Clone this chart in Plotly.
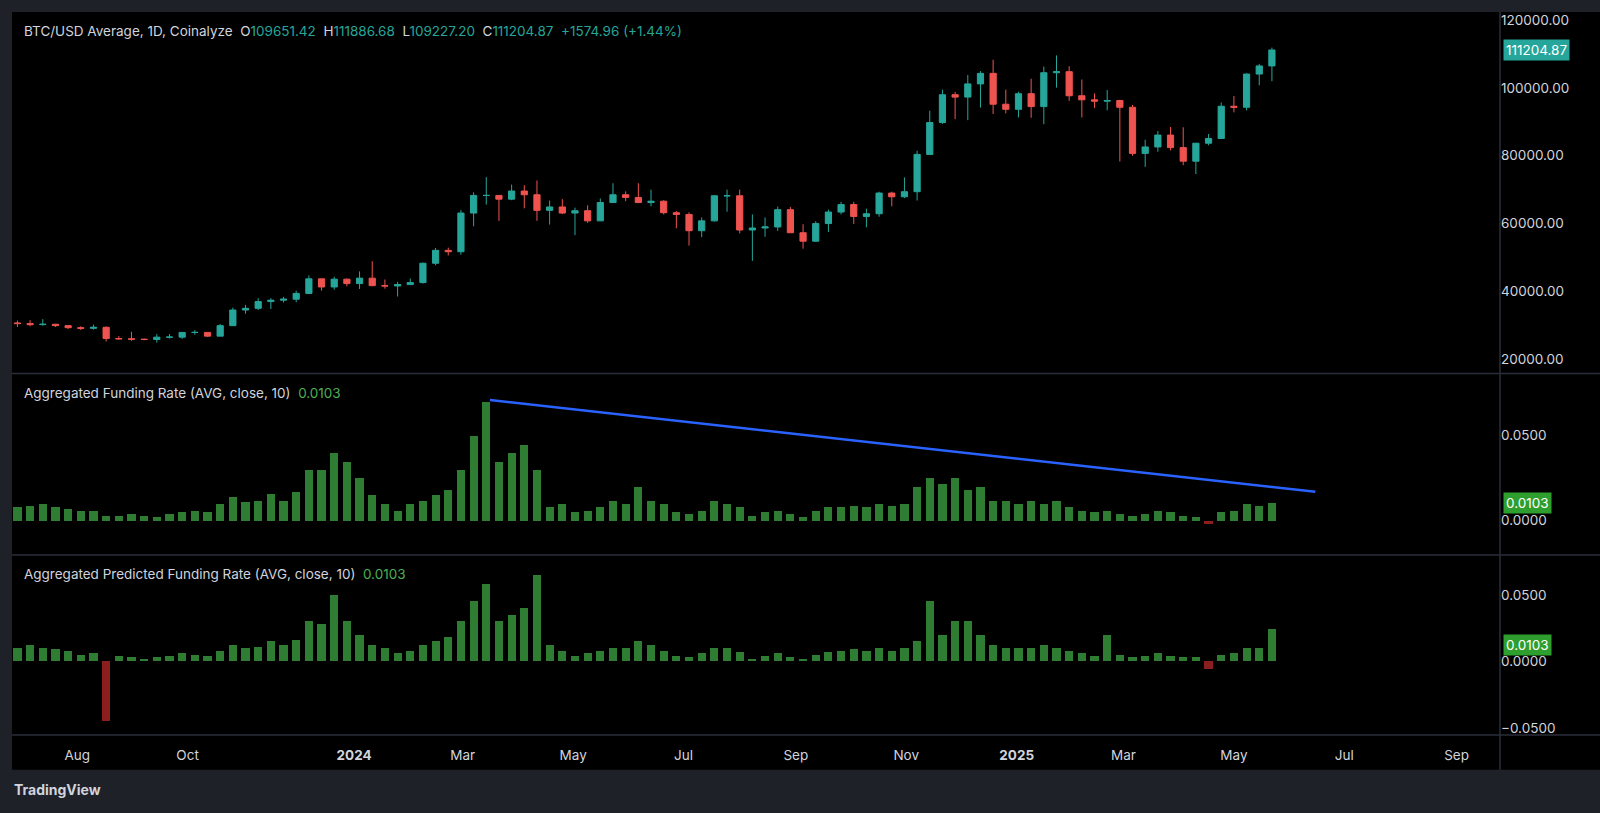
import pandas as pd
import plotly.graph_objects as go
from plotly.subplots import make_subplots

start_week = "2023-06-26"
first_open = 30700
closes = [30500,30200,30300,29900,29300,29100,29400,26100,26000,25900,
          25800,26500,26500,27900,27900,26800,29900,34500,35000,37000,
          37400,37700,39400,43700,41300,43600,42300,
          43900,41700,41600,42000,42600,48300,52100,51700,63100,
          68300,68300,67200,69600,68500,63900,64900,63100,63800,
          60800,66200,68500,67700,66200,66600,63200,62700,
          57900,60800,68200,68200,58100,58700,59000,64100,57300,
          54800,60000,63400,65600,62100,62900,69000,67900,69400,
          80400,89800,98000,97300,101200,104300,95200,93700,98300,
          94500,104500,104800,97700,96500,96100,96300,94300,
          80700,82600,86100,82400,78400,83700,85100,94600,94300,
          104100,106500,111200]
highs = [31400,31500,31800,30400,30000,29700,30200,29700,26800,28100,
         26100,27400,27400,28000,28600,28000,30400,35200,36000,38000,
         38000,38400,40200,44700,43500,44300,43800,
         45900,48900,43500,42800,43800,48500,52800,52900,64000,
         69200,73700,68200,71500,71300,72700,66800,67200,64700,
         65400,67400,71900,69500,71900,70000,66900,63700,
         63300,61800,68400,70000,70000,62700,61800,65000,64900,
         59800,60700,64100,66400,66400,64400,69400,69400,73600,
         81500,93300,99500,98800,103800,105000,108300,99500,98900,
         102700,106300,109600,106400,102500,98400,99400,96500,
         95000,84700,87300,88500,88400,83800,86400,95700,97600,
         104300,107100,111900]
lows = [29500,29700,29900,29500,28900,28600,28700,25200,25800,25400,
        25600,24900,26100,26000,27200,26600,26800,29800,33400,34500,
        34800,36700,36800,39300,40200,40500,41500,
        40700,41500,40800,38500,41900,42300,47700,50600,50800,
        59200,65600,60800,66900,64500,60800,59700,62800,56600,
        60200,60800,66600,66600,66100,65100,62700,58600,
        53500,56000,60600,63500,57100,49000,56100,57800,57200,
        52600,54600,57500,62700,59900,58900,62000,65100,67500,
        66800,80200,89400,90800,90500,94200,92300,92500,91300,
        91200,89300,100100,96200,91300,94100,93400,78300,
        80000,76700,81200,81600,77200,74600,83100,85100,92800,
        93400,100800,102000]
funding = [0.008,0.009,0.010,0.008,0.007,0.006,0.006,0.003,0.003,0.004,
           0.003,0.002,0.004,0.005,0.006,0.005,0.010,0.014,0.011,0.012,
           0.016,0.012,0.017,0.030,0.030,0.040,0.035,
           0.025,0.015,0.010,0.006,0.010,0.012,0.015,0.018,0.030,
           0.050,0.070,0.035,0.040,0.045,0.030,0.008,0.010,0.005,
           0.006,0.008,0.012,0.010,0.020,0.012,0.010,0.005,
           0.004,0.006,0.012,0.010,0.008,0.003,0.005,0.006,0.004,
           0.002,0.006,0.008,0.008,0.009,0.008,0.010,0.009,0.010,
           0.020,0.025,0.022,0.025,0.018,0.020,0.012,0.012,0.010,
           0.012,0.010,0.012,0.008,0.006,0.005,0.006,0.004,
           0.003,0.004,0.006,0.005,0.003,0.002,-0.002,0.005,0.006,
           0.010,0.009,0.0103]
predicted = [0.010,0.012,0.010,0.009,0.008,0.005,0.006,-0.045,0.004,0.003,
             0.002,0.003,0.004,0.006,0.005,0.004,0.008,0.012,0.010,0.011,
             0.015,0.012,0.016,0.030,0.028,0.050,0.030,
             0.020,0.012,0.010,0.006,0.008,0.012,0.015,0.018,0.030,
             0.045,0.058,0.030,0.035,0.040,0.065,0.012,0.008,0.004,
             0.006,0.008,0.010,0.010,0.015,0.012,0.008,0.004,
             0.003,0.006,0.010,0.010,0.007,0.002,0.004,0.006,0.003,
             0.002,0.005,0.007,0.008,0.009,0.008,0.010,0.008,0.010,
             0.015,0.045,0.020,0.030,0.030,0.020,0.012,0.010,0.010,
             0.010,0.012,0.010,0.008,0.006,0.004,0.020,0.005,
             0.003,0.004,0.006,0.004,0.003,0.003,-0.006,0.005,0.006,
             0.010,0.010,0.024]
trend_x = ["2024-03-16", "2025-06-15"]
trend_y = [0.0711, 0.0169]
last_price = "111204.87"
last_rate = "0.0103"

n = min(len(closes), len(highs), len(lows), len(funding), len(predicted))
dates = pd.date_range(start_week, periods=n, freq="7D") + pd.Timedelta(days=3)
opens = [first_open] + closes[:n-1]
closes, funding, predicted = closes[:n], funding[:n], predicted[:n]
highs = [max(h, o, c) for h, o, c in zip(highs[:n], opens, closes)]
lows = [min(l, o, c) for l, o, c in zip(lows[:n], opens, closes)]

UP, DN = "#26a69a", "#ef5350"
GREEN, RED = "#2e7d32", "#8b1e1e"
TXT = "#d1d4dc"
FONT = "Inter"

fig = make_subplots(rows=3, cols=1, shared_xaxes=True, vertical_spacing=0.003,
                    row_heights=[0.5, 0.25, 0.25])
fig.add_trace(go.Candlestick(x=dates, open=opens, high=highs, low=lows, close=closes,
                             increasing=dict(line=dict(color=UP, width=1), fillcolor=UP),
                             decreasing=dict(line=dict(color=DN, width=1), fillcolor=DN),
                             whiskerwidth=0, showlegend=False), row=1, col=1)
fig.add_trace(go.Bar(x=dates, y=funding, marker_color=[GREEN if v >= 0 else RED for v in funding],
                     marker_line_width=0, width=4.5*86400000, showlegend=False), row=2, col=1)
fig.add_trace(go.Scatter(x=trend_x, y=trend_y, mode="lines", line=dict(color="#2962ff", width=2.5),
                         showlegend=False), row=2, col=1)
fig.add_trace(go.Bar(x=dates, y=predicted, marker_color=[GREEN if v >= 0 else RED for v in predicted],
                     marker_line_width=0, width=4.5*86400000, showlegend=False), row=3, col=1)

tickvals = ["2023-08-01","2023-10-01","2024-01-01","2024-03-01","2024-05-01","2024-07-01",
            "2024-09-01","2024-11-01","2025-01-01","2025-03-01","2025-05-01","2025-07-01","2025-09-01"]
ticktext = ["Aug","Oct","<b>2024</b>","Mar","May","Jul","Sep","Nov","<b>2025</b>","Mar","May","Jul","Sep"]

fig.update_xaxes(range=["2023-06-26", "2025-09-25"], showgrid=False, zeroline=False,
                 rangeslider_visible=False, showline=False)
fig.update_xaxes(tickvals=tickvals, ticktext=ticktext, tickfont=dict(color=TXT, size=13.5),
                 ticks="", ticklabelstandoff=10, row=3, col=1)
fig.update_yaxes(side="right", showgrid=False, zeroline=False, ticks="",
                 tickfont=dict(color=TXT, size=13.5), showline=False)
fig.update_yaxes(range=[16100, 122400], tickvals=[20000,40000,60000,80000,100000,120000],
                 ticktext=["20000.00","40000.00","60000.00","80000.00","100000.00","120000.00"], row=1, col=1)
fig.update_yaxes(range=[-0.0199, 0.0861], tickvals=[0, 0.05], ticktext=["0.0000","0.0500"], row=2, col=1)
fig.update_yaxes(range=[-0.0554, 0.0792], tickvals=[-0.05, 0, 0.05],
                 ticktext=["\u22120.0500","0.0000","0.0500"], row=3, col=1)

fig.update_layout(width=1600, height=813, paper_bgcolor="#1e2128", plot_bgcolor="#000000",
                  margin=dict(l=12, r=100, t=12, b=78), bargap=0,
                  font=dict(family=FONT, color=TXT, size=13), hovermode=False)
fig.layout.yaxis.domain = [0.5015, 1]
fig.layout.yaxis2.domain = [0.2503, 0.4986]
fig.layout.yaxis3.domain = [0, 0.2476]

fig.add_shape(type="rect", xref="paper", yref="paper", x0=0, x1=1.07, y0=-0.048, y1=1,
              fillcolor="#000000", line_width=0, layer="below")
for yy in [0.5, 0.249, 0]:
    fig.add_shape(type="line", xref="paper", yref="paper", x0=0, x1=1.07, y0=yy, y1=yy,
                  line=dict(color="#2a2e39", width=1.5))
fig.add_shape(type="line", xref="paper", yref="paper", x0=1, x1=1, y0=-0.048, y1=1,
              line=dict(color="#2a2e39", width=1.5))

hdr = ("BTC/USD Average, 1D, Coinalyze  O<span style='color:#26a69a'>109651.42</span>  "
       "H<span style='color:#26a69a'>111886.68</span>  L<span style='color:#26a69a'>109227.20</span>  "
       "C<span style='color:#26a69a'>111204.87</span>  <span style='color:#26a69a'>+1574.96 (+1.44%)</span>")
fig.add_annotation(text=hdr, xref="paper", yref="paper", x=0.0065, y=0.974, showarrow=False,
                   xanchor="left", yanchor="middle", font=dict(size=13.5, color=TXT))
fig.add_annotation(text="Aggregated Funding Rate (AVG, close, 10)  <span style='color:#4caf50'>0.0103</span>",
                   xref="paper", yref="paper", x=0.0065, y=0.473, showarrow=False,
                   xanchor="left", yanchor="middle", font=dict(size=13.5, color=TXT))
fig.add_annotation(text="Aggregated Predicted Funding Rate (AVG, close, 10)  <span style='color:#4caf50'>0.0103</span>",
                   xref="paper", yref="paper", x=0.0065, y=0.222, showarrow=False,
                   xanchor="left", yanchor="middle", font=dict(size=13.5, color=TXT))

fig.add_annotation(text=last_price, xref="paper", yref="y", x=1.002, y=111204.87, showarrow=False,
                   xanchor="left", bgcolor="#26a69a", font=dict(color="#ffffff", size=13.5), borderpad=2)
fig.add_annotation(text=last_rate, xref="paper", yref="y2", x=1.002, y=0.0103, showarrow=False,
                   xanchor="left", bgcolor="#2e9e2e", font=dict(color="#ffffff", size=13.5), borderpad=2)
fig.add_annotation(text=last_rate, xref="paper", yref="y3", x=1.002, y=0.0125, showarrow=False,
                   xanchor="left", bgcolor="#2e9e2e", font=dict(color="#ffffff", size=13.5), borderpad=2)
fig.add_annotation(text="<b>TradingView</b>", xref="paper", yref="paper", x=0.0, y=-0.09, showarrow=False,
                   xanchor="left", font=dict(color=TXT, size=14))

fig.write_html("out.html", config={"displayModeBar": False})
with open("out.html", encoding="utf-8") as f:
    html = f.read()
html = html.replace("<body>", "<body style=\"margin:0;overflow:hidden\">", 1)
with open("out.html", "w", encoding="utf-8") as f:
    f.write(html)
